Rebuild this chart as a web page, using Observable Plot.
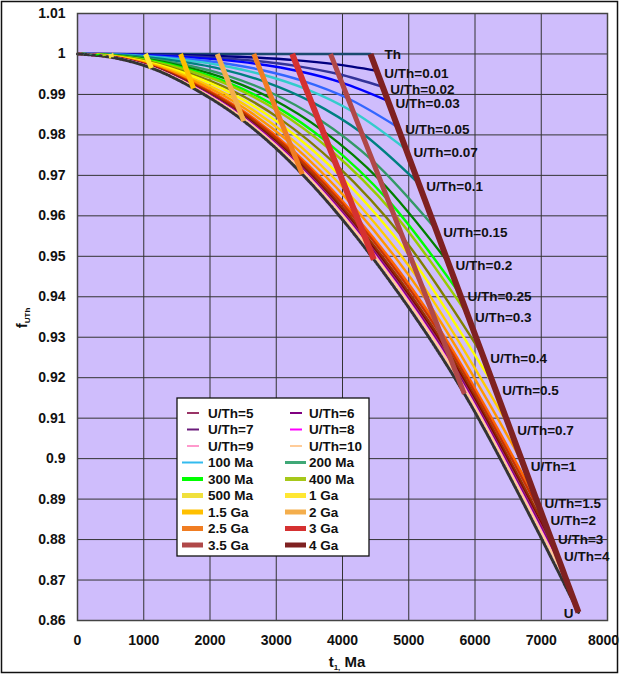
<!DOCTYPE html>
<html><head><meta charset="utf-8">
<script src="https://cdn.jsdelivr.net/npm/d3@7"></script>
<script src="https://cdn.jsdelivr.net/npm/@observablehq/plot@0.6"></script>
<style>body{margin:0;background:#fff;font-family:"Liberation Sans",Arial,sans-serif}</style>
</head><body><div id="chart"></div>
<script>
// ages (Ga) at which each U/Th curve is sampled (points on the isochrons)
const ages = [0, 0.5, 1, 1.5, 2, 2.5, 3, 3.5, 4];
const seriesNames = ["Th","U/Th=0.01","U/Th=0.02","U/Th=0.03","U/Th=0.05","U/Th=0.07","U/Th=0.1","U/Th=0.15","U/Th=0.2","U/Th=0.25","U/Th=0.3","U/Th=0.4","U/Th=0.5","U/Th=0.7","U/Th=1","U/Th=1.5","U/Th=2","U/Th=3","U/Th=4","U/Th=5","U/Th=6","U/Th=7","U/Th=8","U/Th=9","U/Th=10","U"];
// t1 (Ma) per series per age
const seriesX = [
 [0,506,1026,1555,2109,2661,3241,3819,4423],
 [0,506,1029,1561,2121,2683,3278,3880,4517],
 [0,506,1031,1567,2133,2704,3314,3938,4608],
 [0,507,1034,1571,2143,2722,3345,3989,4687],
 [0,507,1038,1581,2162,2757,3402,4084,4834],
 [0,507,1042,1589,2178,2786,3452,4165,4960],
 [0,507,1047,1600,2202,2831,3527,4288,5151],
 [0,508,1055,1617,2235,2891,3628,4454,5409],
 [0,508,1060,1628,2259,2934,3701,4573,5594],
 [0,509,1065,1639,2281,2975,3771,4688,5773],
 [0,509,1068,1646,2296,3002,3815,4761,5886],
 [0,509,1075,1661,2326,3056,3906,4910,6118],
 [0,510,1080,1672,2348,3097,3977,5026,6297],
 [0,510,1087,1686,2377,3150,4065,5171,6523],
 [0,510,1093,1699,2403,3198,4145,5302,6727],
 [0,511,1099,1712,2430,3246,4227,5436,6934],
 [0,511,1102,1718,2442,3268,4264,5496,7028],
 [0,511,1105,1725,2456,3293,4307,5567,7138],
 [0,511,1107,1730,2468,3315,4344,5628,7232],
 [0,511,1109,1734,2475,3328,4366,5664,7289],
 [0,512,1110,1737,2480,3338,4382,5690,7330],
 [0,512,1111,1739,2484,3345,4394,5711,7361],
 [0,512,1112,1740,2488,3351,4404,5727,7386],
 [0,512,1112,1741,2490,3355,4411,5739,7405],
 [0,512,1113,1742,2492,3359,4418,5749,7421],
 [0,512,1117,1751,2510,3392,4473,5840,7562]
];
// f_UTh per series per age
const seriesF = [
 [1,1,1,1,1,1,1,1,1],
 [1,0.99998,0.99990,0.99975,0.99950,0.99911,0.99848,0.99748,0.99586],
 [1,0.99995,0.99979,0.99950,0.99902,0.99825,0.99700,0.99504,0.99186],
 [1,0.99993,0.99971,0.99929,0.99861,0.99751,0.99573,0.99294,0.98841],
 [1,0.99989,0.99954,0.99889,0.99783,0.99611,0.99335,0.98900,0.98192],
 [1,0.99986,0.99940,0.99855,0.99716,0.99492,0.99131,0.98564,0.97640],
 [1,0.99981,0.99919,0.99803,0.99615,0.99311,0.98821,0.98051,0.96798],
 [1,0.99974,0.99890,0.99733,0.99479,0.99067,0.98405,0.97362,0.95667],
 [1,0.99969,0.99869,0.99683,0.99381,0.98892,0.98105,0.96867,0.94853],
 [1,0.99965,0.99850,0.99635,0.99286,0.98723,0.97816,0.96388,0.94066],
 [1,0.99962,0.99837,0.99604,0.99226,0.98616,0.97633,0.96086,0.93569],
 [1,0.99956,0.99811,0.99541,0.99104,0.98396,0.97257,0.95464,0.92548],
 [1,0.99951,0.99791,0.99493,0.99009,0.98227,0.96967,0.94985,0.91761],
 [1,0.99945,0.99766,0.99431,0.98890,0.98013,0.96602,0.94380,0.90768],
 [1,0.99940,0.99743,0.99376,0.98782,0.97820,0.96271,0.93834,0.89871],
 [1,0.99934,0.99720,0.99320,0.98672,0.97624,0.95936,0.93280,0.88960],
 [1,0.99932,0.99710,0.99295,0.98622,0.97535,0.95784,0.93028,0.88546],
 [1,0.99929,0.99697,0.99265,0.98564,0.97431,0.95606,0.92734,0.88063],
 [1,0.99927,0.99687,0.99239,0.98514,0.97342,0.95453,0.92482,0.87649],
 [1,0.99925,0.99680,0.99224,0.98484,0.97288,0.95362,0.92331,0.87401],
 [1,0.99924,0.99676,0.99213,0.98463,0.97250,0.95296,0.92222,0.87221],
 [1,0.99923,0.99672,0.99204,0.98446,0.97220,0.95245,0.92138,0.87083],
 [1,0.99923,0.99670,0.99198,0.98433,0.97196,0.95205,0.92070,0.86973],
 [1,0.99922,0.99668,0.99193,0.98423,0.97179,0.95174,0.92020,0.86890],
 [1,0.99922,0.99666,0.99188,0.98415,0.97164,0.95149,0.91978,0.86821],
 [1,0.99918,0.99650,0.99150,0.98340,0.97030,0.94920,0.91600,0.86200]
];
const seriesColors = ["#1a4a6e","#000080","#333399","#0000ff","#3366ff","#33cccc","#008080","#339966","#008000","#00ff00","#99cc00","#808000","#ffff00","#ffcc00","#ff9900","#ff6600","#cc3300","#993300","#800000","#993366","#800080","#6a1b7a","#ff00ff","#ff99cc","#ffcc99","#333333"];
const legendOnlySeries = ["U/Th=5","U/Th=6","U/Th=7","U/Th=8","U/Th=9","U/Th=10"];

// isochrons
const isoNames = ["100 Ma","200 Ma","300 Ma","400 Ma","500 Ma","1 Ga","1.5 Ga","2 Ga","2.5 Ga","3 Ga","3.5 Ga","4 Ga"];
const isoGa = [0.1,0.2,0.3,0.4,0.5,1,1.5,2,2.5,3,3.5,4];
const isoColors = ["#33bbee","#3fa877","#00ff00","#a6c81a","#f0e03c","#ffe733","#ffc000","#f4ae4c","#f07d22","#d53131","#b04848","#7f2121"];
const isoWidths = [2,3,4,4,5,5,5,5,5,6,5,6];
// short isochrons (young ages): Th end and U end
const smallIsoGa = [0.1,0.2,0.3,0.4];
const smallIsoThX = [100,201,302,404];
const smallIsoUX = [101,203,305,408];
const smallIsoUF = [0.99996,0.99986,0.99969,0.99947];

const xTicks = [0,1000,2000,3000,4000,5000,6000,7000,8000];
const yTicks = [0.86,0.87,0.88,0.89,0.90,0.91,0.92,0.93,0.94,0.95,0.96,0.97,0.98,0.99,1.00,1.01];

const FONT = '"Liberation Sans", Arial, sans-serif';
const rows = [];
seriesNames.forEach((name, i) => ages.forEach((a, j) => rows.push({name, age: a, x: seriesX[i][j], f: seriesF[i][j]})));

const marks = [];
marks.push(Plot.frame({fill: "#cfbdfc"}));
marks.push(Plot.gridX(xTicks, {stroke: "#333", strokeOpacity: 1, strokeWidth: 1}));
marks.push(Plot.gridY(yTicks, {stroke: "#333", strokeOpacity: 1, strokeWidth: 1}));
seriesNames.forEach((name, i) => {
  const isU = name === "U";
  marks.push(Plot.line(rows.filter(d => d.name === name), {
    x: "x", y: "f", stroke: seriesColors[i],
    strokeWidth: isU ? 3 : 2.4,
    strokeDasharray: isU ? "2,1.5" : null,
    curve: "catmull-rom"
  }));
});
isoGa.forEach((g, k) => {
  const j = ages.indexOf(g);
  let pts;
  if (j >= 0) pts = seriesNames.map((n, i) => ({x: seriesX[i][j], f: seriesF[i][j]}));
  else {
    const m = smallIsoGa.indexOf(g);
    pts = [{x: smallIsoThX[m], f: 1}, {x: smallIsoUX[m], f: smallIsoUF[m]}];
  }
  marks.push(Plot.line(pts, {x: "x", y: "f", stroke: isoColors[k], strokeWidth: isoWidths[k], strokeLinecap: "butt"}));
});
marks.push(Plot.frame({stroke: "#444", strokeWidth: 1.5}));

const ends = seriesNames.map((n, i) => ({name: n, x: seriesX[i][8], f: seriesF[i][8]}))
  .filter(d => !legendOnlySeries.includes(d.name));
const textStyle = {fontSize: 13.5, fontWeight: "bold", fill: "#111", fontFamily: FONT};
marks.push(Plot.text(ends.filter(d => d.name !== "Th" && d.name !== "U"), {x: "x", y: "f", text: "name", dx: 7.5, dy: 3, textAnchor: "start", ...textStyle}));
marks.push(Plot.text(ends.filter(d => d.name === "Th"), {x: "x", y: "f", text: "name", dx: 14, dy: 1, textAnchor: "start", ...textStyle}));
marks.push(Plot.text(ends.filter(d => d.name === "U"), {x: "x", y: "f", text: "name", dx: -5, dy: 1, textAnchor: "end", ...textStyle}));

const axisText = {tickSize: 0, fontSize: 14, fontWeight: "bold", fill: "#111", label: null};
marks.push(Plot.axisX(xTicks.slice(0, -1), {...axisText, tickPadding: 15, tickFormat: d => String(d)}));
marks.push(Plot.axisX(xTicks.slice(-1), {...axisText, tickPadding: 15, dx: -4, tickFormat: d => String(d)}));
marks.push(Plot.axisY(yTicks, {...axisText, tickPadding: 12, tickFormat: d => String(+d.toFixed(2))}));

const chart = Plot.plot({
  width: 620, height: 676,
  marginLeft: 77, marginRight: 13, marginTop: 13, marginBottom: 56,
  x: {domain: [0, 8000], label: null},
  y: {domain: [0.86, 1.01], label: null},
  style: {fontFamily: FONT, fontSize: "14px", fontWeight: "bold", background: "#fff", overflow: "visible"},
  marks
});
document.getElementById("chart").append(chart);

const svg = d3.select(chart);
// outer border
svg.append("rect").attr("x", 1.5).attr("y", 1.5).attr("width", 616).attr("height", 671)
  .attr("fill", "none").attr("stroke", "#111").attr("stroke-width", 1.5);

// axis titles
const xt = svg.append("text").attr("x", 347).attr("y", 667).attr("text-anchor", "middle")
  .attr("font-family", FONT).attr("font-weight", "bold").attr("font-size", 15).attr("fill", "#111");
xt.append("tspan").text("t");
xt.append("tspan").attr("font-size", 8).attr("dy", 3).text("1,");
xt.append("tspan").attr("dy", -3).text(" Ma");
const yt = svg.append("text").attr("transform", "translate(27,318) rotate(-90)").attr("text-anchor", "middle")
  .attr("font-family", FONT).attr("font-weight", "bold").attr("font-size", 15).attr("fill", "#111");
yt.append("tspan").text("f");
yt.append("tspan").attr("font-size", 8).attr("dy", 3).text("UTh");

// legend
const legEntries = [];
legendOnlySeries.forEach(n => { const i = seriesNames.indexOf(n); legEntries.push({name: n, color: seriesColors[i], width: 2, short: true}); });
isoNames.forEach((n, k) => legEntries.push({name: n, color: isoColors[k], width: Math.min(isoWidths[k], 5), short: false}));
const lg = svg.append("g").attr("text-anchor", "start");
lg.append("rect").attr("x", 177).attr("y", 398).attr("width", 192).attr("height", 158)
  .attr("fill", "#fff").attr("stroke", "#111").attr("stroke-width", 1.3);
legEntries.forEach((e, i) => {
  const row = Math.floor(i / 2), col = i % 2;
  const y = 413 + row * 16.5;
  const x0 = col === 0 ? 182 : 285;
  const lx1 = e.short ? x0 + 5 : x0, lx2 = e.short ? x0 + 17 : x0 + 21;
  lg.append("line").attr("x1", lx1).attr("x2", lx2).attr("y1", y).attr("y2", y)
    .attr("stroke", e.color).attr("stroke-width", e.width);
  lg.append("text").attr("x", col === 0 ? 208 : 309).attr("y", y).attr("dy", "0.36em")
    .attr("text-anchor", "start")
    .attr("font-family", FONT).attr("font-weight", "bold").attr("font-size", 13.5).attr("fill", "#111").text(e.name);
});
</script>
</body></html>
